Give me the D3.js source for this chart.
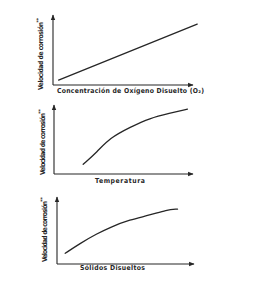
<!DOCTYPE html>
<html><head><meta charset="utf-8">
<script src="https://cdnjs.cloudflare.com/ajax/libs/d3/7.8.5/d3.min.js"></script>
<style>body{margin:0;background:#fff}svg{display:block}</style>
</head><body>
<svg id="c" width="277" height="283"></svg>
<script>
// Data (relative units 0-100)
const yTitle = "Velocidad de corrosión";
const yTitleMark = "**";
const xTitles = ["Concentración de Oxígeno Disuelto (O₂)", "Temperatura", "Sólidos Disueltos"];
const oxygenX = [4, 103];
const oxygenY = [7, 87];
const tempX = [21, 31, 40, 55, 69, 83, 96];
const tempY = [14, 32, 52, 68, 81, 88, 94];
const solidsX = [6, 17, 29, 39, 53, 68, 80, 88];
const solidsY = [16, 31, 45, 55, 66, 73, 81, 82];

const panels = [
  {ox:53, oy:85, w:140, h:70, xs:oxygenX, ys:oxygenY, curve:d3.curveLinear, xt:xTitles[0], xtx:57, xtw:147, xty:91, ytx:41, yty0:90, yty1:22},
  {ox:54, oy:174, w:139, h:69, xs:tempX, ys:tempY, curve:d3.curveBasis, xt:xTitles[1], xtx:95, xtw:50, xty:181, ytx:43, yty0:175, yty1:113},
  {ox:57, oy:264, w:137, h:67, xs:solidsX, ys:solidsY, curve:d3.curveBasis, xt:xTitles[2], xtx:80, xtw:65, xty:268, ytx:45, yty0:262, yty1:201}
];

const svg = d3.select("#c");
const ink = "#262626";
const font = "'Liberation Sans Narrow','DejaVu Sans Condensed','Liberation Sans',sans-serif";
const defs = svg.append("defs");
defs.append("marker").attr("id","ar").attr("viewBox","0 0 10 10").attr("refX",9).attr("refY",5)
  .attr("markerWidth",5).attr("markerHeight",5).attr("orient","auto")
  .append("path").attr("d","M0,1 L10,5 L0,9 Z").attr("fill",ink);

panels.forEach(p => {
  const x = d3.scaleLinear().domain([0,100]).range([p.ox, p.ox + p.w]);
  const y = d3.scaleLinear().domain([0,100]).range([p.oy, p.oy - p.h]);
  const g = svg.append("g");
  // axes
  g.append("line").attr("x1",x(0)).attr("y1",y(0)).attr("x2",x(100)).attr("y2",y(0))
    .attr("stroke",ink).attr("stroke-width",1.1).attr("marker-end","url(#ar)");
  g.append("line").attr("x1",x(0)).attr("y1",y(0)).attr("x2",x(0)).attr("y2",y(100))
    .attr("stroke",ink).attr("stroke-width",1.1).attr("marker-end","url(#ar)");
  // data line
  const pts = p.xs.map((v,i)=>[v, p.ys[i]]);
  g.append("path").datum(pts)
    .attr("d", d3.line().x(d=>x(d[0])).y(d=>y(d[1])).curve(p.curve))
    .attr("fill","none").attr("stroke",ink).attr("stroke-width",1.3).attr("stroke-linecap","round");
  // x title
  g.append("text").attr("x",p.xtx).attr("y",p.xty).attr("dominant-baseline","middle")
    .attr("textLength",p.xtw).attr("lengthAdjust","spacing")
    .attr("font-family",font).attr("font-size",6.8).attr("font-weight","bold").attr("fill",ink)
    .text(p.xt);
  // y title
  const t = g.append("text").attr("transform",`translate(${p.ytx},${p.yty0}) rotate(-90)`)
    .attr("dominant-baseline","middle")
    .attr("font-family",font).attr("font-size",6.8).attr("font-weight","bold").attr("fill",ink);
  t.append("tspan").attr("textLength",p.yty0 - p.yty1).attr("lengthAdjust","spacing").text(yTitle);
  t.append("tspan").attr("dy",-2.5).attr("font-size",5).text(yTitleMark);
});
</script>
</body></html>
